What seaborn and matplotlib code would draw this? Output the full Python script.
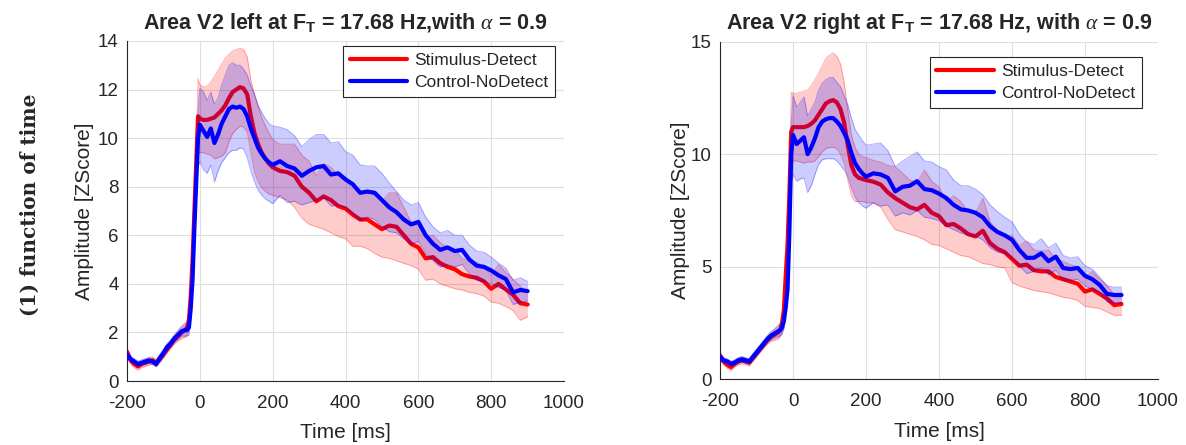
#Recreate the V2 left / right amplitude time courses (mean +- error band)
import numpy as np
import pandas as pd
import matplotlib
matplotlib.use('Agg')
import matplotlib.pyplot as plt
import seaborn as sns

#time axis shared by every series (ms)
time_ms = [-200, -190, -180, -170, -160, -150, -140, -130, -120, -110, -100, -90, -80, -70, -60, -50, -40,
           -35, -30, -25, -20, -15, -10, -5,
           0, 10, 20, 30, 40, 50, 60, 70, 80, 90, 100, 110, 120, 130, 140, 150, 160, 170, 180, 190, 200,
           220, 240, 260, 280, 300, 320, 340, 360, 380, 400, 420, 440, 460, 480, 500, 520, 540, 560, 580, 600,
           620, 640, 660, 680, 700, 720, 740, 760, 780, 800, 820, 840, 860, 880, 900]

#left hemisphere
left_red_mean = [1.20, 0.85, 0.70, 0.60, 0.70, 0.75, 0.80, 0.85, 0.75, 0.90, 1.10, 1.30, 1.50, 1.70, 1.85, 2.00, 2.10,
                 2.20, 2.50, 3.50, 5.00, 7.00, 9.00, 10.90,
                 10.80, 10.75, 10.75, 10.80, 10.85, 11.00, 11.15, 11.35, 11.65, 11.90, 12.00, 12.10, 12.05, 11.80,
                 10.90, 10.20, 9.75, 9.40, 9.15, 8.95, 8.80,
                 8.65, 8.60, 8.45, 8.00, 7.75, 7.40, 7.60, 7.45, 7.20, 7.10,
                 6.85, 6.65, 6.65, 6.45, 6.25, 6.40, 6.35, 6.00, 5.65, 5.50,
                 5.05, 5.10, 4.85, 4.70, 4.60, 4.40, 4.30, 4.25, 4.10, 3.80,
                 4.00, 3.77, 3.55, 3.20, 3.15]
left_red_err = [0.20, 0.15, 0.15, 0.15, 0.15, 0.15, 0.15, 0.15, 0.15, 0.15, 0.15, 0.15, 0.15, 0.18, 0.20, 0.25, 0.30,
                0.30, 0.35, 0.40, 0.50, 0.60, 0.80, 1.55,
                1.40, 1.35, 1.40, 1.50, 1.70, 1.80, 1.90, 1.95, 1.80, 1.70, 1.65, 1.60, 1.60, 1.55, 1.50, 1.60,
                1.55, 1.45, 1.35, 1.25, 1.15,
                1.10, 1.15, 1.30, 1.30, 1.30, 1.05, 1.35, 1.35, 1.25, 1.25,
                1.30, 1.10, 1.20, 1.20, 1.15, 1.35, 1.40, 1.15, 0.90, 0.90,
                0.90, 0.90, 0.85, 0.80, 0.80, 0.65, 0.65, 0.65, 0.60, 0.55,
                0.80, 0.70, 0.65, 0.70, 0.50]
left_blue_mean = [1.10, 0.90, 0.80, 0.70, 0.75, 0.80, 0.85, 0.80, 0.70, 0.95, 1.15, 1.40, 1.55, 1.75, 1.90, 2.05, 2.10,
                  2.10, 2.20, 3.00, 4.20, 6.30, 8.20, 10.00,
                  10.55, 10.30, 10.05, 10.40, 9.80, 10.15, 10.60, 10.90, 11.20, 11.30, 11.25, 11.30, 11.20, 10.90,
                  10.40, 10.00, 9.60, 9.35, 9.15, 9.00, 8.90,
                  9.05, 8.85, 8.75, 8.45, 8.65, 8.80, 8.85, 8.50, 8.55, 8.30,
                  8.10, 7.75, 7.80, 7.75, 7.45, 7.15, 6.95, 6.65, 6.45, 6.55,
                  6.00, 5.65, 5.40, 5.50, 5.35, 5.40, 5.00, 4.75, 4.70, 4.55,
                  4.35, 4.20, 3.65, 3.75, 3.70]
left_blue_err = [0.15, 0.12, 0.12, 0.12, 0.12, 0.12, 0.12, 0.12, 0.12, 0.15, 0.15, 0.15, 0.15, 0.15, 0.18, 0.20, 0.25,
                 0.25, 0.30, 0.35, 0.40, 0.50, 0.70, 1.20,
                 1.50, 1.60, 1.50, 1.50, 1.60, 1.50, 1.60, 1.70, 1.80, 1.80, 1.75, 1.70, 1.65, 1.70, 1.75, 1.80,
                 1.75, 1.70, 1.65, 1.60, 1.60,
                 1.40, 1.50, 1.35, 1.20, 1.30, 1.35, 1.30, 1.30, 1.30, 1.15,
                 1.20, 1.15, 1.05, 1.10, 1.10, 1.00, 0.85, 0.80, 0.80, 0.80,
                 0.75, 0.70, 0.70, 0.70, 0.65, 0.60, 0.60, 0.60, 0.60, 0.55,
                 0.50, 0.45, 0.50, 0.50, 0.40]

#right hemisphere
right_red_mean = [1.05, 0.80, 0.65, 0.55, 0.70, 0.80, 0.85, 0.80, 0.75, 0.95, 1.15, 1.35, 1.55, 1.75, 1.90, 2.00, 2.10,
                  2.20, 2.50, 3.10, 4.60, 6.00, 8.20, 11.00,
                  11.20, 11.20, 11.20, 11.20, 11.25, 11.35, 11.50, 11.75, 12.00, 12.25, 12.35, 12.40, 12.30, 12.00,
                  11.40, 10.40, 9.50, 9.10, 8.95, 8.90, 8.85,
                  8.78, 8.65, 8.30, 8.05, 7.85, 7.65, 7.55, 7.75, 7.40, 7.25,
                  6.85, 6.90, 6.70, 6.45, 6.35, 6.60, 6.05, 5.80, 5.65, 5.35,
                  5.05, 5.10, 4.85, 4.80, 4.80, 4.55, 4.45, 4.35, 4.25, 3.90,
                  4.00, 3.80, 3.60, 3.30, 3.35]
right_red_err = [0.20, 0.15, 0.15, 0.15, 0.15, 0.15, 0.15, 0.15, 0.15, 0.15, 0.15, 0.15, 0.15, 0.18, 0.20, 0.25, 0.30,
                 0.30, 0.35, 0.40, 0.50, 0.60, 0.80, 1.75,
                 1.50, 1.50, 1.55, 1.60, 1.60, 1.70, 1.80, 1.85, 1.90, 2.00, 2.05, 2.10, 2.05, 2.00, 1.80, 1.55,
                 1.35, 1.20, 1.05, 1.00, 1.00,
                 0.95, 1.00, 1.20, 1.40, 1.30, 1.20, 1.20, 1.55, 1.40, 1.30,
                 1.05, 1.25, 1.20, 1.00, 1.05, 1.45, 0.95, 0.80, 0.70, 1.05,
                 0.90, 1.05, 0.90, 0.90, 0.95, 0.80, 0.80, 0.75, 0.75, 0.65,
                 0.80, 0.65, 0.60, 0.45, 0.50]
right_blue_mean = [1.00, 0.85, 0.80, 0.70, 0.75, 0.85, 0.90, 0.85, 0.80, 1.00, 1.20, 1.40, 1.60, 1.80, 1.95, 2.05, 2.15,
                   2.20, 2.30, 2.60, 3.20, 4.00, 6.50, 10.00,
                   10.85, 10.45, 10.60, 10.75, 10.00, 10.30, 10.70, 11.20, 11.45, 11.55, 11.60, 11.60, 11.45, 11.25,
                   10.95, 10.60, 10.05, 9.60, 9.35, 9.15, 9.00,
                   9.15, 9.10, 8.95, 8.35, 8.55, 8.60, 8.80, 8.45, 8.40, 8.25,
                   8.05, 7.75, 7.55, 7.50, 7.40, 7.20, 6.80, 6.55, 6.40, 6.20,
                   5.75, 5.40, 5.40, 5.60, 5.25, 5.45, 4.95, 4.90, 4.95, 4.60,
                   4.45, 4.20, 3.80, 3.75, 3.75]
right_blue_err = [0.15, 0.12, 0.12, 0.12, 0.12, 0.12, 0.12, 0.12, 0.12, 0.15, 0.15, 0.15, 0.15, 0.15, 0.18, 0.20, 0.25,
                  0.25, 0.30, 0.35, 0.40, 0.50, 0.80, 1.30,
                  1.75, 1.65, 1.70, 1.80, 1.70, 1.70, 1.60, 1.65, 1.70, 1.75, 1.80, 1.80, 1.75, 1.75, 1.65, 1.60,
                  1.55, 1.50, 1.50, 1.45, 1.40,
                  1.30, 1.40, 1.20, 1.10, 1.15, 1.30, 1.30, 1.25, 1.25, 1.20,
                  1.25, 1.10, 1.05, 1.10, 1.05, 1.00, 0.95, 0.90, 0.80, 0.80,
                  0.70, 0.70, 0.60, 0.65, 0.60, 0.60, 0.55, 0.50, 0.50, 0.45,
                  0.45, 0.35, 0.35, 0.35, 0.35]

conditions = ['Stimulus-Detect', 'Control-NoDetect']
colors = {'Stimulus-Detect': '#ff0000', 'Control-NoDetect': '#0000ff'}

titles = ['Area V2 left at F$_\\mathbf{T}$ = 17.68 Hz,with $\\alpha$ = 0.9',
          'Area V2 right at F$_\\mathbf{T}$ = 17.68 Hz, with $\\alpha$ = 0.9']
yticks = [list(range(0, 15, 2)), [0, 5, 10, 15]]
ylims = [(0, 14), (0, 15)]
xticks = list(range(-200, 1001, 200))

#style
sns.set_style('white')
plt.rcParams['font.family'] = ['Liberation Sans', 'DejaVu Sans']
plt.rcParams['axes.unicode_minus'] = False
plt.rcParams['mathtext.fontset'] = 'custom'
plt.rcParams['mathtext.rm'] = 'Liberation Sans'
plt.rcParams['mathtext.bf'] = 'Liberation Sans:bold'
plt.rcParams['mathtext.it'] = 'Liberation Serif:italic'

fig = plt.figure(figsize=(11.86, 4.45), dpi=100)
ax_left = fig.add_axes([0.1071, 0.1438, 0.3685, 0.7641])
ax_right = fig.add_axes([0.6071, 0.1472, 0.3693, 0.7595])

panels = [
    (ax_left, {'Stimulus-Detect': (left_red_mean, left_red_err), 'Control-NoDetect': (left_blue_mean, left_blue_err)}),
    (ax_right, {'Stimulus-Detect': (right_red_mean, right_red_err), 'Control-NoDetect': (right_blue_mean, right_blue_err)}),
]
legend_anchor = [(0.979, 0.985), (0.963, 0.954)]
ylabel_x = [-0.098, -0.09]
xlabel_y = [-0.15, -0.155]

for p, (ax, series) in enumerate(panels):
    z = 1
    for cond in conditions:
        mean, err = series[cond]
        df = pd.DataFrame({'time': time_ms, 'amp': mean, 'err': err})
        lo = df['amp'] - df['err']
        hi = df['amp'] + df['err']
        col = colors[cond]
        #shaded error band with faint edges
        ax.fill_between(df['time'], lo, hi, color=col, alpha=0.2, lw=0, zorder=z)
        ax.plot(df['time'], lo, color=col, alpha=0.3, lw=0.7, zorder=z)
        ax.plot(df['time'], hi, color=col, alpha=0.3, lw=0.7, zorder=z)
        #mean trace
        sns.lineplot(data=df, x='time', y='amp', color=col, lw=3, ax=ax, zorder=z + 1, label=cond)
        z += 2

    ax.set_xlim(-200, 1000)
    ax.set_ylim(*ylims[p])
    ax.set_xticks(xticks)
    ax.set_yticks(yticks[p])
    ax.grid(True, color='#dfdfdf', lw=0.8)
    ax.set_axisbelow(True)
    for side in ['top', 'right']:
        ax.spines[side].set_visible(False)
    for side in ['left', 'bottom']:
        ax.spines[side].set_color('#262626')
        ax.spines[side].set_linewidth(0.8)
    ax.tick_params(direction='in', length=4, width=0.8, colors='#262626', labelsize=13.5)
    ax.tick_params(axis='x', pad=10)
    ax.tick_params(axis='y', pad=6)
    ax.set_xlabel('Time [ms]', fontsize=15, color='#262626')
    ax.set_ylabel('Amplitude [ZScore]', fontsize=15, color='#262626')
    ax.xaxis.label.set_va('center')
    ax.yaxis.label.set_va('center')
    ax.xaxis.set_label_coords(0.5, xlabel_y[p])
    ax.yaxis.set_label_coords(ylabel_x[p], 0.5)
    ax.set_title(titles[p], fontsize=15.5, fontweight='bold', pad=9)

    leg = ax.legend(loc='upper right', bbox_to_anchor=legend_anchor[p], borderaxespad=0,
                    fontsize=12.5, handlelength=3.3, fancybox=False, framealpha=1,
                    edgecolor='#262626', borderpad=0.4, labelspacing=0.4, handletextpad=0.4)
    leg.get_frame().set_linewidth(0.8)

#row label on the far left
fig.text(0.025, 0.54, '(1) function of time', rotation=90, ha='center', va='center',
         fontsize=14.5, fontweight='bold', family=['DejaVu Serif'])

plt.savefig('out.png', dpi=100)
